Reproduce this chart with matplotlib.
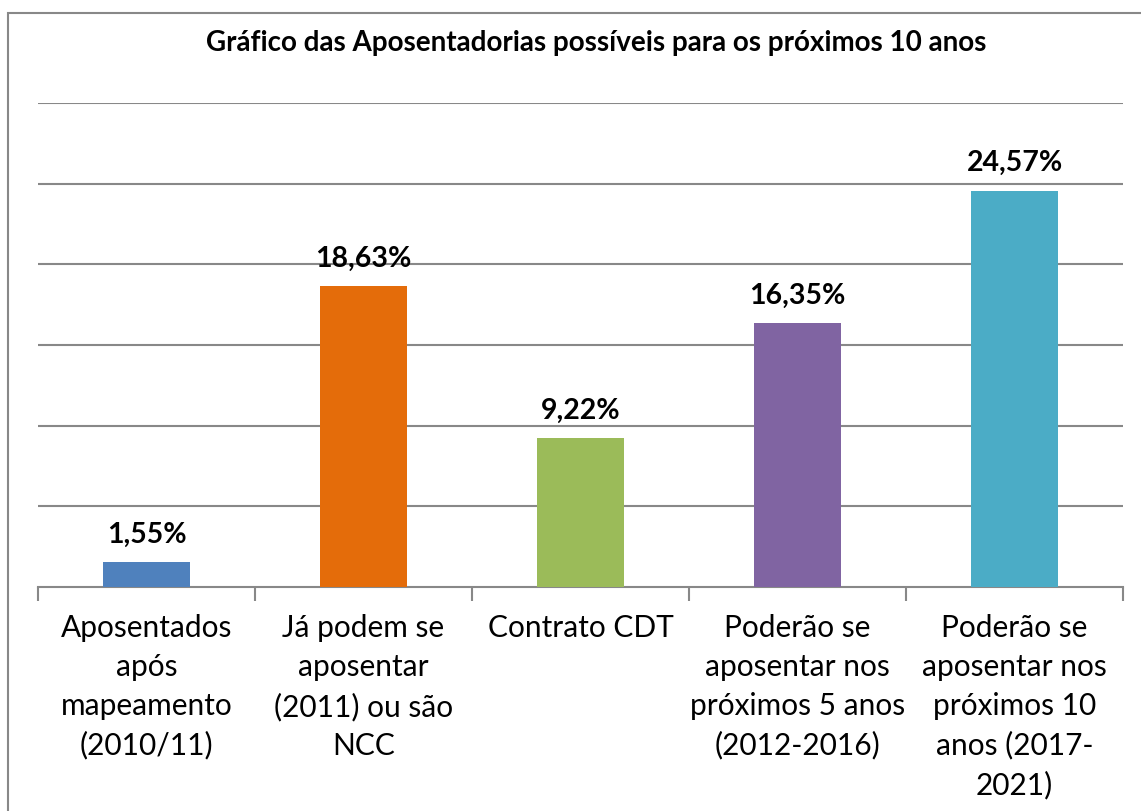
import numpy as np
import matplotlib.pyplot as plt
from matplotlib.patches import Rectangle

categorias = ["Aposentados\napós\nmapeamento\n(2010/11)",
              "Já podem se\naposentar\n(2011) ou são\nNCC",
              "Contrato CDT",
              "Poderão se\naposentar nos\npróximos 5 anos\n(2012-2016)",
              "Poderão se\naposentar nos\npróximos 10\nanos (2017-\n2021)"]
valores = [1.55, 18.63, 9.22, 16.35, 24.57]
rotulos = ["1,55%", "18,63%", "9,22%", "16,35%", "24,57%"]
cores = ["#4F81BD", "#E46C0A", "#9BBB59", "#8064A2", "#4BACC6"]

plt.rcParams['font.family'] = ['Lato', 'DejaVu Sans']

fig = plt.figure(figsize=(11.41, 8.11), dpi=100)
ax = fig.add_axes([38/1141, 1 - 587/811, 1085/1141, 484/811])

x = np.arange(len(valores))
ax.bar(x, valores, width=0.4, color=cores, zorder=3)
for xi, v, r in zip(x, valores, rotulos):
    ax.text(xi, v + 0.9, r, ha='center', va='bottom', fontsize=20.5, fontweight='bold')

ax.set_xlim(-0.5, len(valores) - 0.5)
ax.set_ylim(0, 30)
ax.set_yticks(np.arange(5, 31, 5))
ax.yaxis.grid(True, color='#888888', linewidth=1.5, zorder=0)
ax.tick_params(axis='y', left=False, labelleft=False)
for s in ['top', 'right', 'left']:
    ax.spines[s].set_visible(False)
ax.spines['bottom'].set_color('#888888')
ax.spines['bottom'].set_linewidth(1.5)

# marcas entre categorias
ax.set_xticks(np.arange(-0.5, len(valores)), minor=False)
ax.set_xticklabels([])
ax.tick_params(axis='x', direction='out', length=10, width=1.5, color='#888888')
for xi, c in zip(x, categorias):
    ax.text(xi, -1.7, c, ha='center', va='top', fontsize=21.5, linespacing=1.47,
            transform=ax.transData)

fig.text(596/1141, 1 - 43/811, "Gráfico das Aposentadorias possíveis para os próximos 10 anos",
         ha='center', va='center', fontsize=20, fontweight='bold')

# borda da área do gráfico
fig.patches.append(Rectangle((8/1141, -0.1), 1.2, 1 - 13/811 + 0.1, transform=fig.transFigure,
                             fill=False, edgecolor='#888888', linewidth=1.5))

fig.savefig("out.png", dpi=100)
